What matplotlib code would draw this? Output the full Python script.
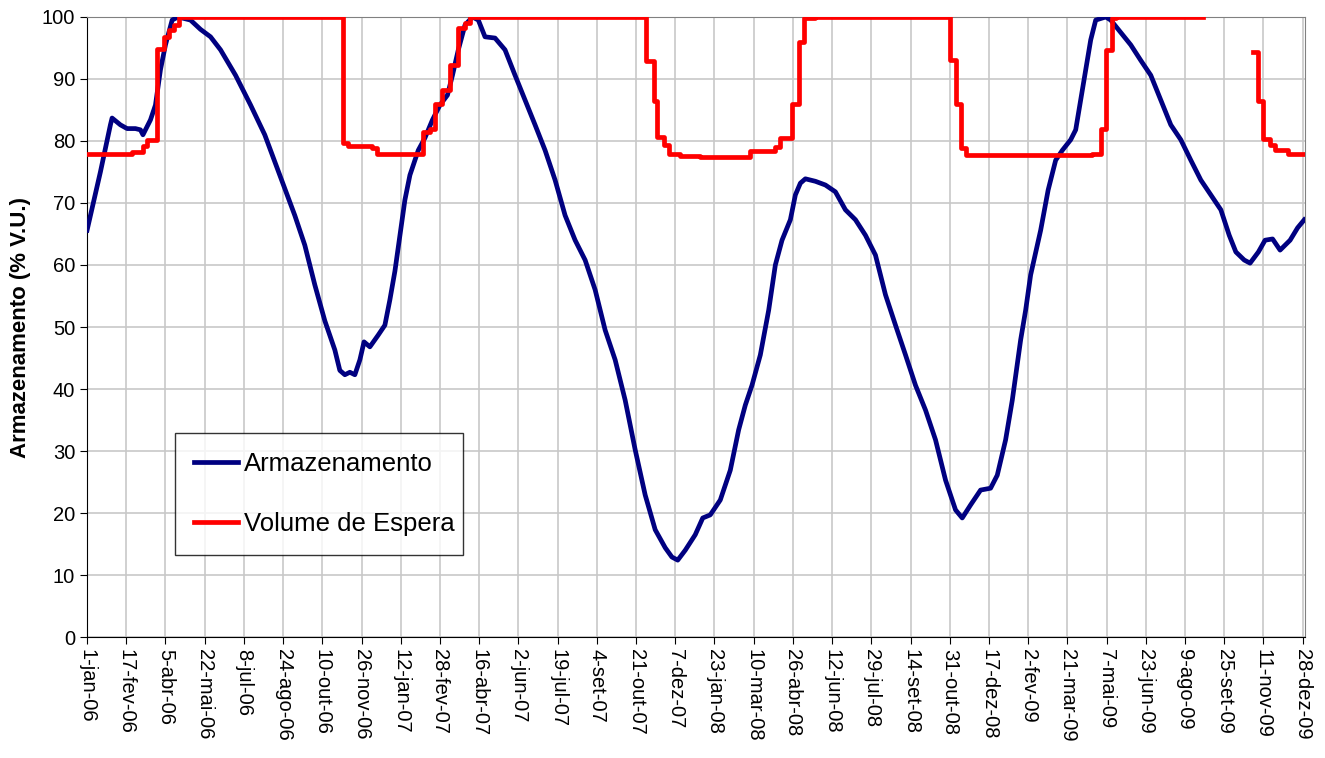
import numpy as np
import pandas as pd
from matplotlib import pyplot as plt

plt.rcParams['font.family'] = ['Liberation Sans', 'DejaVu Sans']

start = pd.Timestamp('2006-01-01')

# Armazenamento: dias desde 1-jan-06 e valor (% V.U.)
arm_dias = [0, 16, 28, 30, 40, 48, 58, 64, 67, 76, 82, 88, 94, 102, 109, 124, 136, 148,
            160, 178, 196, 213, 231, 249, 261, 273, 285, 297, 303, 309, 315, 321, 327,
            332, 339, 349, 357, 363, 369, 375, 381, 387, 397, 405, 414, 423, 432, 438,
            445, 453, 462, 469, 477, 489, 501, 513, 525, 537, 549, 561, 573, 585, 597,
            609, 621, 633, 645, 657, 669, 681, 693, 701, 708, 717, 729, 738, 747, 759,
            771, 781, 789, 797, 807, 817, 825, 833, 843, 849, 855, 861, 873, 885, 897,
            909, 921, 933, 945, 957, 969, 981, 993, 1005, 1017, 1029, 1041, 1049, 1059,
            1071, 1083, 1091, 1101, 1109, 1119, 1125, 1131, 1143, 1152, 1161, 1169, 1179,
            1185, 1191, 1197, 1203, 1209, 1221, 1227, 1236, 1251, 1263, 1275, 1287, 1299,
            1311, 1323, 1335, 1347, 1359, 1369, 1377, 1387, 1394, 1404, 1412, 1421, 1430,
            1442, 1451, 1459]
arm_vals = [65.6, 75, 82.6, 83.7, 82.6, 82, 82, 81.8, 81, 83.4, 85.8, 91.5, 95.5, 99.5,
            100, 99.5, 98, 96.8, 94.7, 90.6, 85.8, 81, 74.5, 68, 63.2, 56.8, 51, 46.3,
            43, 42.3, 42.7, 42.3, 44.7, 47.6, 46.8, 48.7, 50.3, 54.4, 59, 64.8, 70.5,
            74.5, 78.5, 80.5, 83.4, 85.8, 87.4, 90.6, 94.7, 98.7, 100, 99.5, 96.8, 96.6,
            94.7, 90.6, 86.6, 82.6, 78.5, 73.7, 68, 64, 60.8, 56, 49.5, 44.7, 38.2, 30.2,
            22.9, 17.3, 14.4, 12.9, 12.4, 14, 16.5, 19.2, 19.7, 22.1, 26.9, 33.4, 37.4,
            40.6, 45.5, 52.7, 60, 64, 67.3, 71.3, 73.2, 73.9, 73.5, 72.9, 71.8, 68.9,
            67.3, 64.8, 61.6, 55.2, 50.3, 45.5, 40.6, 36.6, 31.8, 25.3, 20.5, 19.2,
            21.3, 23.7, 24, 26.1, 31.8, 38.2, 47.9, 52.7, 58.4, 65.6, 72.1, 76.9, 78.5,
            80.2, 81.8, 86.6, 91.5, 96.3, 99.5, 100, 99.5, 98, 95.5, 93, 90.6, 86.6,
            82.6, 80.2, 76.9, 73.7, 71.3, 68.9, 64.8, 62.1, 60.8, 60.3, 62.1, 64, 64.2,
            62.4, 64, 66, 67.3]

# Volume de Espera: inicio de cada degrau (dias) e valor; NaN = sem dados
esp_dias = [0, 54, 67, 72, 84, 92, 98, 104, 110, 307, 313, 342, 348, 403, 411, 417, 426,
            435, 445, 453, 459, 670, 679, 683, 691, 697, 711, 735, 795, 825, 831, 845,
            853, 859, 873, 1034, 1041, 1047, 1053, 1205, 1215, 1221, 1229, 1233, 1338,
            1397, 1404, 1410, 1418, 1424, 1440, 1460]
esp_vals = [77.9, 78.3, 79.2, 80.2, 94.8, 96.8, 97.9, 98.7, 100, 79.6, 79.2, 78.8, 77.9,
            81.5, 82, 86, 88.2, 92.2, 98.2, 99.1, 100, 92.9, 86.5, 80.7, 79.4, 77.9, 77.6,
            77.4, 78.4, 79.1, 80.5, 86, 95.9, 99.8, 100, 93.1, 86, 78.8, 77.7, 77.9, 82,
            94.7, 99.8, 100, np.nan, 94.4, 86.5, 80.4, 79.4, 78.5, 77.9, 77.9]

tick_labels = ['1-jan-06', '17-fev-06', '5-abr-06', '22-mai-06', '8-jul-06', '24-ago-06',
               '10-out-06', '26-nov-06', '12-jan-07', '28-fev-07', '16-abr-07', '2-jun-07',
               '19-jul-07', '4-set-07', '21-out-07', '7-dez-07', '23-jan-08', '10-mar-08',
               '26-abr-08', '12-jun-08', '29-jul-08', '14-set-08', '31-out-08', '17-dez-08',
               '2-fev-09', '21-mar-09', '7-mai-09', '23-jun-09', '9-ago-09', '25-set-09',
               '11-nov-09', '28-dez-09']

arm_x = start + pd.to_timedelta(arm_dias, unit='D')
esp_x = start + pd.to_timedelta(esp_dias, unit='D')
tick_x = pd.date_range(start, periods=len(tick_labels), freq='47D')

fig = plt.figure(figsize=(13.25, 7.58), dpi=100)
ax = fig.add_axes([0.0657, 0.1596, 0.9193, 0.818])

ax.plot(arm_x, arm_vals, color='#000080', lw=3.4, label='Armazenamento', zorder=3)
ax.plot(esp_x, esp_vals, color='#ff0000', lw=3.4, drawstyle='steps-post',
        label='Volume de Espera', zorder=4)

ax.set_xlim(start, start + pd.Timedelta(days=1460))
ax.set_ylim(0, 100)
ax.set_yticks(range(0, 101, 10))
ax.set_xticks(tick_x)
ax.set_xticklabels(tick_labels, rotation=-90, fontsize=14.5)
ax.tick_params(axis='y', labelsize=14.5)
ax.tick_params(direction='out', length=5, color='black')
ax.set_ylabel('Armazenamento (% V.U.)', fontsize=16, fontweight='bold', labelpad=8)

ax.grid(True, color='#c8c8c8', lw=1.2)
ax.set_axisbelow(True)
for s in ['top', 'right']:
    ax.spines[s].set_color('#808080')
for s in ['left', 'bottom']:
    ax.spines[s].set_color('black')

leg = ax.legend(loc='lower left', bbox_to_anchor=(0.072, 0.132, 0.237, 0.197),
                mode='expand', borderaxespad=0, fontsize=18.5, frameon=True,
                fancybox=False, handlelength=1.7, labelspacing=1.4, borderpad=0.75,
                handletextpad=0.25)
leg.get_frame().set_edgecolor('black')
leg.get_frame().set_linewidth(1.0)

plt.savefig('out.png', dpi=100)
